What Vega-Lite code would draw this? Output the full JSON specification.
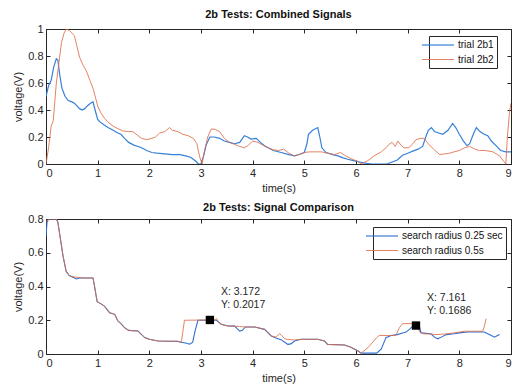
{
  "$schema": "https://vega.github.io/schema/vega-lite/v6.json",
  "padding": {"left": 12, "top": 8, "right": -2, "bottom": 2},
  "config": {
    "font": "Liberation Sans",
    "background": "white",
    "view": {"stroke": "#262626", "strokeWidth": 1},
    "axis": {
      "domainColor": "#262626", "tickColor": "#262626", "labelColor": "#262626", "titleColor": "#262626",
      "labelFontSize": 11, "titleFontSize": 11, "titleFontWeight": "normal",
      "grid": false, "tickSize": -4, "labelPadding": 7, "titlePadding": 4
    },
    "title": {"fontSize": 11, "fontWeight": "bold", "color": "#111111", "offset": 3},
    "legend": {
      "orient": "none", "title": null, "symbolType": "M-3.2,0H3.2", "symbolSize": 100,
      "symbolStrokeWidth": 1.2, "labelFontSize": 10, "labelColor": "#111111", "labelOffset": 14,
      "strokeColor": "#262626", "fillColor": "white", "padding": 3, "rowPadding": 4
    },
    "concat": {"spacing": 7}
  },
  "datasets": {
    "combined": [
      {"t": 0, "v": 0.50, "series": "trial 2b1"}, {"t": 0.05, "v": 0.58, "series": "trial 2b1"}, {"t": 0.1, "v": 0.62, "series": "trial 2b1"},
      {"t": 0.15, "v": 0.72, "series": "trial 2b1"}, {"t": 0.2, "v": 0.78, "series": "trial 2b1"}, {"t": 0.23, "v": 0.77, "series": "trial 2b1"},
      {"t": 0.27, "v": 0.65, "series": "trial 2b1"}, {"t": 0.31, "v": 0.56, "series": "trial 2b1"}, {"t": 0.37, "v": 0.50, "series": "trial 2b1"},
      {"t": 0.43, "v": 0.47, "series": "trial 2b1"}, {"t": 0.5, "v": 0.46, "series": "trial 2b1"}, {"t": 0.55, "v": 0.45, "series": "trial 2b1"},
      {"t": 0.6, "v": 0.43, "series": "trial 2b1"}, {"t": 0.65, "v": 0.41, "series": "trial 2b1"}, {"t": 0.7, "v": 0.40, "series": "trial 2b1"},
      {"t": 0.75, "v": 0.41, "series": "trial 2b1"}, {"t": 0.8, "v": 0.43, "series": "trial 2b1"}, {"t": 0.86, "v": 0.45, "series": "trial 2b1"},
      {"t": 0.91, "v": 0.46, "series": "trial 2b1"}, {"t": 0.95, "v": 0.40, "series": "trial 2b1"}, {"t": 1.0, "v": 0.33, "series": "trial 2b1"},
      {"t": 1.05, "v": 0.31, "series": "trial 2b1"}, {"t": 1.12, "v": 0.29, "series": "trial 2b1"}, {"t": 1.2, "v": 0.27, "series": "trial 2b1"},
      {"t": 1.3, "v": 0.25, "series": "trial 2b1"}, {"t": 1.39, "v": 0.23, "series": "trial 2b1"}, {"t": 1.45, "v": 0.22, "series": "trial 2b1"},
      {"t": 1.52, "v": 0.19, "series": "trial 2b1"}, {"t": 1.6, "v": 0.16, "series": "trial 2b1"}, {"t": 1.7, "v": 0.14, "series": "trial 2b1"},
      {"t": 1.78, "v": 0.13, "series": "trial 2b1"}, {"t": 1.85, "v": 0.12, "series": "trial 2b1"}, {"t": 1.95, "v": 0.10, "series": "trial 2b1"},
      {"t": 2.05, "v": 0.085, "series": "trial 2b1"}, {"t": 2.15, "v": 0.08, "series": "trial 2b1"}, {"t": 2.3, "v": 0.075, "series": "trial 2b1"},
      {"t": 2.45, "v": 0.07, "series": "trial 2b1"}, {"t": 2.6, "v": 0.07, "series": "trial 2b1"}, {"t": 2.7, "v": 0.06, "series": "trial 2b1"},
      {"t": 2.8, "v": 0.05, "series": "trial 2b1"}, {"t": 2.9, "v": 0.02, "series": "trial 2b1"}, {"t": 2.95, "v": 0.0, "series": "trial 2b1"},
      {"t": 3.0, "v": 0.0, "series": "trial 2b1"}, {"t": 3.05, "v": 0.06, "series": "trial 2b1"}, {"t": 3.1, "v": 0.14, "series": "trial 2b1"},
      {"t": 3.17, "v": 0.2, "series": "trial 2b1"}, {"t": 3.25, "v": 0.2, "series": "trial 2b1"}, {"t": 3.36, "v": 0.19, "series": "trial 2b1"},
      {"t": 3.45, "v": 0.17, "series": "trial 2b1"}, {"t": 3.55, "v": 0.16, "series": "trial 2b1"}, {"t": 3.65, "v": 0.15, "series": "trial 2b1"},
      {"t": 3.75, "v": 0.16, "series": "trial 2b1"}, {"t": 3.84, "v": 0.21, "series": "trial 2b1"}, {"t": 3.9, "v": 0.2, "series": "trial 2b1"},
      {"t": 3.97, "v": 0.185, "series": "trial 2b1"}, {"t": 4.07, "v": 0.19, "series": "trial 2b1"}, {"t": 4.15, "v": 0.16, "series": "trial 2b1"},
      {"t": 4.23, "v": 0.135, "series": "trial 2b1"}, {"t": 4.3, "v": 0.12, "series": "trial 2b1"}, {"t": 4.4, "v": 0.1, "series": "trial 2b1"},
      {"t": 4.55, "v": 0.085, "series": "trial 2b1"}, {"t": 4.7, "v": 0.07, "series": "trial 2b1"}, {"t": 4.81, "v": 0.06, "series": "trial 2b1"},
      {"t": 4.9, "v": 0.07, "series": "trial 2b1"}, {"t": 5.0, "v": 0.085, "series": "trial 2b1"}, {"t": 5.05, "v": 0.15, "series": "trial 2b1"},
      {"t": 5.08, "v": 0.22, "series": "trial 2b1"}, {"t": 5.16, "v": 0.25, "series": "trial 2b1"}, {"t": 5.26, "v": 0.27, "series": "trial 2b1"},
      {"t": 5.3, "v": 0.2, "series": "trial 2b1"}, {"t": 5.34, "v": 0.12, "series": "trial 2b1"}, {"t": 5.42, "v": 0.085, "series": "trial 2b1"},
      {"t": 5.55, "v": 0.07, "series": "trial 2b1"}, {"t": 5.65, "v": 0.06, "series": "trial 2b1"}, {"t": 5.75, "v": 0.045, "series": "trial 2b1"},
      {"t": 5.84, "v": 0.035, "series": "trial 2b1"}, {"t": 5.95, "v": 0.025, "series": "trial 2b1"}, {"t": 6.07, "v": 0.015, "series": "trial 2b1"},
      {"t": 6.2, "v": 0.005, "series": "trial 2b1"}, {"t": 6.3, "v": 0.0, "series": "trial 2b1"}, {"t": 6.6, "v": 0.0, "series": "trial 2b1"},
      {"t": 6.7, "v": 0.015, "series": "trial 2b1"}, {"t": 6.8, "v": 0.03, "series": "trial 2b1"}, {"t": 6.9, "v": 0.065, "series": "trial 2b1"},
      {"t": 7.0, "v": 0.08, "series": "trial 2b1"}, {"t": 7.1, "v": 0.095, "series": "trial 2b1"}, {"t": 7.2, "v": 0.11, "series": "trial 2b1"},
      {"t": 7.29, "v": 0.13, "series": "trial 2b1"}, {"t": 7.35, "v": 0.2, "series": "trial 2b1"}, {"t": 7.4, "v": 0.25, "series": "trial 2b1"},
      {"t": 7.46, "v": 0.27, "series": "trial 2b1"}, {"t": 7.52, "v": 0.24, "series": "trial 2b1"}, {"t": 7.6, "v": 0.23, "series": "trial 2b1"},
      {"t": 7.68, "v": 0.22, "series": "trial 2b1"}, {"t": 7.78, "v": 0.25, "series": "trial 2b1"}, {"t": 7.87, "v": 0.3, "series": "trial 2b1"},
      {"t": 7.93, "v": 0.27, "series": "trial 2b1"}, {"t": 8.0, "v": 0.22, "series": "trial 2b1"}, {"t": 8.08, "v": 0.17, "series": "trial 2b1"},
      {"t": 8.15, "v": 0.135, "series": "trial 2b1"}, {"t": 8.2, "v": 0.15, "series": "trial 2b1"}, {"t": 8.27, "v": 0.22, "series": "trial 2b1"},
      {"t": 8.33, "v": 0.27, "series": "trial 2b1"}, {"t": 8.4, "v": 0.24, "series": "trial 2b1"}, {"t": 8.48, "v": 0.22, "series": "trial 2b1"},
      {"t": 8.55, "v": 0.21, "series": "trial 2b1"}, {"t": 8.62, "v": 0.17, "series": "trial 2b1"}, {"t": 8.7, "v": 0.14, "series": "trial 2b1"},
      {"t": 8.8, "v": 0.1, "series": "trial 2b1"}, {"t": 8.9, "v": 0.09, "series": "trial 2b1"}, {"t": 9.0, "v": 0.09, "series": "trial 2b1"},

      {"t": 0, "v": 0.0, "series": "trial 2b2"}, {"t": 0.05, "v": 0.12, "series": "trial 2b2"}, {"t": 0.1, "v": 0.28, "series": "trial 2b2"},
      {"t": 0.14, "v": 0.32, "series": "trial 2b2"}, {"t": 0.2, "v": 0.6, "series": "trial 2b2"}, {"t": 0.25, "v": 0.75, "series": "trial 2b2"},
      {"t": 0.3, "v": 0.9, "series": "trial 2b2"}, {"t": 0.35, "v": 0.97, "series": "trial 2b2"}, {"t": 0.39, "v": 1.0, "series": "trial 2b2"},
      {"t": 0.45, "v": 0.99, "series": "trial 2b2"}, {"t": 0.5, "v": 0.97, "series": "trial 2b2"}, {"t": 0.55, "v": 0.95, "series": "trial 2b2"},
      {"t": 0.6, "v": 0.87, "series": "trial 2b2"}, {"t": 0.65, "v": 0.79, "series": "trial 2b2"}, {"t": 0.72, "v": 0.73, "series": "trial 2b2"},
      {"t": 0.78, "v": 0.69, "series": "trial 2b2"}, {"t": 0.85, "v": 0.62, "series": "trial 2b2"}, {"t": 0.91, "v": 0.56, "series": "trial 2b2"},
      {"t": 0.96, "v": 0.49, "series": "trial 2b2"}, {"t": 1.0, "v": 0.43, "series": "trial 2b2"}, {"t": 1.06, "v": 0.38, "series": "trial 2b2"},
      {"t": 1.13, "v": 0.34, "series": "trial 2b2"}, {"t": 1.2, "v": 0.31, "series": "trial 2b2"}, {"t": 1.3, "v": 0.28, "series": "trial 2b2"},
      {"t": 1.4, "v": 0.26, "series": "trial 2b2"}, {"t": 1.49, "v": 0.245, "series": "trial 2b2"}, {"t": 1.6, "v": 0.24, "series": "trial 2b2"},
      {"t": 1.68, "v": 0.24, "series": "trial 2b2"}, {"t": 1.78, "v": 0.21, "series": "trial 2b2"}, {"t": 1.85, "v": 0.19, "series": "trial 2b2"},
      {"t": 1.95, "v": 0.18, "series": "trial 2b2"}, {"t": 2.05, "v": 0.19, "series": "trial 2b2"}, {"t": 2.12, "v": 0.2, "series": "trial 2b2"},
      {"t": 2.2, "v": 0.23, "series": "trial 2b2"}, {"t": 2.3, "v": 0.24, "series": "trial 2b2"}, {"t": 2.39, "v": 0.27, "series": "trial 2b2"},
      {"t": 2.45, "v": 0.25, "series": "trial 2b2"}, {"t": 2.55, "v": 0.24, "series": "trial 2b2"}, {"t": 2.65, "v": 0.22, "series": "trial 2b2"},
      {"t": 2.75, "v": 0.21, "series": "trial 2b2"}, {"t": 2.85, "v": 0.19, "series": "trial 2b2"}, {"t": 2.92, "v": 0.15, "series": "trial 2b2"},
      {"t": 2.97, "v": 0.06, "series": "trial 2b2"}, {"t": 3.02, "v": 0.0, "series": "trial 2b2"}, {"t": 3.07, "v": 0.1, "series": "trial 2b2"},
      {"t": 3.13, "v": 0.2, "series": "trial 2b2"}, {"t": 3.2, "v": 0.26, "series": "trial 2b2"}, {"t": 3.28, "v": 0.255, "series": "trial 2b2"},
      {"t": 3.36, "v": 0.24, "series": "trial 2b2"}, {"t": 3.45, "v": 0.19, "series": "trial 2b2"}, {"t": 3.55, "v": 0.16, "series": "trial 2b2"},
      {"t": 3.65, "v": 0.145, "series": "trial 2b2"}, {"t": 3.75, "v": 0.13, "series": "trial 2b2"}, {"t": 3.84, "v": 0.12, "series": "trial 2b2"},
      {"t": 3.92, "v": 0.14, "series": "trial 2b2"}, {"t": 4.0, "v": 0.17, "series": "trial 2b2"}, {"t": 4.1, "v": 0.16, "series": "trial 2b2"},
      {"t": 4.2, "v": 0.14, "series": "trial 2b2"}, {"t": 4.3, "v": 0.12, "series": "trial 2b2"}, {"t": 4.4, "v": 0.105, "series": "trial 2b2"},
      {"t": 4.5, "v": 0.1, "series": "trial 2b2"}, {"t": 4.6, "v": 0.11, "series": "trial 2b2"}, {"t": 4.7, "v": 0.08, "series": "trial 2b2"},
      {"t": 4.81, "v": 0.06, "series": "trial 2b2"}, {"t": 4.9, "v": 0.07, "series": "trial 2b2"}, {"t": 5.0, "v": 0.085, "series": "trial 2b2"},
      {"t": 5.1, "v": 0.09, "series": "trial 2b2"}, {"t": 5.2, "v": 0.09, "series": "trial 2b2"}, {"t": 5.33, "v": 0.09, "series": "trial 2b2"},
      {"t": 5.45, "v": 0.08, "series": "trial 2b2"}, {"t": 5.58, "v": 0.07, "series": "trial 2b2"}, {"t": 5.7, "v": 0.085, "series": "trial 2b2"},
      {"t": 5.8, "v": 0.06, "series": "trial 2b2"}, {"t": 5.9, "v": 0.04, "series": "trial 2b2"}, {"t": 6.03, "v": 0.02, "series": "trial 2b2"},
      {"t": 6.1, "v": 0.0, "series": "trial 2b2"}, {"t": 6.23, "v": 0.025, "series": "trial 2b2"}, {"t": 6.35, "v": 0.06, "series": "trial 2b2"},
      {"t": 6.49, "v": 0.09, "series": "trial 2b2"}, {"t": 6.58, "v": 0.12, "series": "trial 2b2"}, {"t": 6.65, "v": 0.15, "series": "trial 2b2"},
      {"t": 6.7, "v": 0.16, "series": "trial 2b2"}, {"t": 6.76, "v": 0.13, "series": "trial 2b2"}, {"t": 6.81, "v": 0.17, "series": "trial 2b2"},
      {"t": 6.87, "v": 0.14, "series": "trial 2b2"}, {"t": 6.93, "v": 0.12, "series": "trial 2b2"}, {"t": 7.02, "v": 0.12, "series": "trial 2b2"},
      {"t": 7.1, "v": 0.15, "series": "trial 2b2"}, {"t": 7.16, "v": 0.18, "series": "trial 2b2"}, {"t": 7.25, "v": 0.19, "series": "trial 2b2"},
      {"t": 7.32, "v": 0.19, "series": "trial 2b2"}, {"t": 7.4, "v": 0.15, "series": "trial 2b2"}, {"t": 7.5, "v": 0.11, "series": "trial 2b2"},
      {"t": 7.62, "v": 0.07, "series": "trial 2b2"}, {"t": 7.72, "v": 0.075, "series": "trial 2b2"}, {"t": 7.81, "v": 0.08, "series": "trial 2b2"},
      {"t": 7.9, "v": 0.09, "series": "trial 2b2"}, {"t": 8.0, "v": 0.1, "series": "trial 2b2"}, {"t": 8.1, "v": 0.12, "series": "trial 2b2"},
      {"t": 8.2, "v": 0.13, "series": "trial 2b2"}, {"t": 8.3, "v": 0.11, "series": "trial 2b2"}, {"t": 8.39, "v": 0.1, "series": "trial 2b2"},
      {"t": 8.5, "v": 0.1, "series": "trial 2b2"}, {"t": 8.65, "v": 0.09, "series": "trial 2b2"}, {"t": 8.78, "v": 0.06, "series": "trial 2b2"},
      {"t": 8.86, "v": 0.02, "series": "trial 2b2"}, {"t": 8.9, "v": 0.0, "series": "trial 2b2"}, {"t": 8.93, "v": 0.2, "series": "trial 2b2"},
      {"t": 8.97, "v": 0.38, "series": "trial 2b2"}, {"t": 9.0, "v": 0.45, "series": "trial 2b2"}
    ],
    "comparison": [
      {"t": 0, "v": 0.70, "series": "search radius 0.25 sec"}, {"t": 0.02, "v": 0.78, "series": "search radius 0.25 sec"}, {"t": 0.05, "v": 0.80, "series": "search radius 0.25 sec"},
      {"t": 0.2, "v": 0.80, "series": "search radius 0.25 sec"}, {"t": 0.23, "v": 0.78, "series": "search radius 0.25 sec"}, {"t": 0.28, "v": 0.68, "series": "search radius 0.25 sec"},
      {"t": 0.33, "v": 0.58, "series": "search radius 0.25 sec"}, {"t": 0.39, "v": 0.49, "series": "search radius 0.25 sec"}, {"t": 0.45, "v": 0.465, "series": "search radius 0.25 sec"},
      {"t": 0.52, "v": 0.455, "series": "search radius 0.25 sec"}, {"t": 0.59, "v": 0.445, "series": "search radius 0.25 sec"}, {"t": 0.65, "v": 0.45, "series": "search radius 0.25 sec"},
      {"t": 0.91, "v": 0.45, "series": "search radius 0.25 sec"}, {"t": 0.94, "v": 0.40, "series": "search radius 0.25 sec"}, {"t": 0.99, "v": 0.31, "series": "search radius 0.25 sec"},
      {"t": 1.05, "v": 0.30, "series": "search radius 0.25 sec"}, {"t": 1.13, "v": 0.284, "series": "search radius 0.25 sec"}, {"t": 1.23, "v": 0.245, "series": "search radius 0.25 sec"},
      {"t": 1.33, "v": 0.235, "series": "search radius 0.25 sec"}, {"t": 1.39, "v": 0.196, "series": "search radius 0.25 sec"}, {"t": 1.45, "v": 0.18, "series": "search radius 0.25 sec"},
      {"t": 1.52, "v": 0.156, "series": "search radius 0.25 sec"}, {"t": 1.6, "v": 0.14, "series": "search radius 0.25 sec"}, {"t": 1.78, "v": 0.136, "series": "search radius 0.25 sec"},
      {"t": 1.85, "v": 0.115, "series": "search radius 0.25 sec"}, {"t": 1.91, "v": 0.097, "series": "search radius 0.25 sec"}, {"t": 2.0, "v": 0.087, "series": "search radius 0.25 sec"},
      {"t": 2.17, "v": 0.077, "series": "search radius 0.25 sec"}, {"t": 2.35, "v": 0.076, "series": "search radius 0.25 sec"}, {"t": 2.55, "v": 0.075, "series": "search radius 0.25 sec"},
      {"t": 2.62, "v": 0.07, "series": "search radius 0.25 sec"}, {"t": 2.7, "v": 0.065, "series": "search radius 0.25 sec"}, {"t": 2.78, "v": 0.058, "series": "search radius 0.25 sec"},
      {"t": 2.84, "v": 0.07, "series": "search radius 0.25 sec"}, {"t": 2.88, "v": 0.13, "series": "search radius 0.25 sec"}, {"t": 2.94, "v": 0.2, "series": "search radius 0.25 sec"},
      {"t": 3.172, "v": 0.2017, "series": "search radius 0.25 sec"}, {"t": 3.3, "v": 0.2, "series": "search radius 0.25 sec"}, {"t": 3.39, "v": 0.176, "series": "search radius 0.25 sec"},
      {"t": 3.52, "v": 0.166, "series": "search radius 0.25 sec"}, {"t": 3.65, "v": 0.165, "series": "search radius 0.25 sec"}, {"t": 3.7, "v": 0.15, "series": "search radius 0.25 sec"},
      {"t": 3.75, "v": 0.136, "series": "search radius 0.25 sec"}, {"t": 3.8, "v": 0.14, "series": "search radius 0.25 sec"}, {"t": 3.86, "v": 0.16, "series": "search radius 0.25 sec"},
      {"t": 4.04, "v": 0.16, "series": "search radius 0.25 sec"}, {"t": 4.23, "v": 0.146, "series": "search radius 0.25 sec"}, {"t": 4.36, "v": 0.107, "series": "search radius 0.25 sec"},
      {"t": 4.45, "v": 0.095, "series": "search radius 0.25 sec"}, {"t": 4.55, "v": 0.085, "series": "search radius 0.25 sec"}, {"t": 4.62, "v": 0.07, "series": "search radius 0.25 sec"},
      {"t": 4.68, "v": 0.057, "series": "search radius 0.25 sec"}, {"t": 4.74, "v": 0.06, "series": "search radius 0.25 sec"}, {"t": 4.81, "v": 0.077, "series": "search radius 0.25 sec"},
      {"t": 4.94, "v": 0.087, "series": "search radius 0.25 sec"}, {"t": 5.26, "v": 0.087, "series": "search radius 0.25 sec"}, {"t": 5.39, "v": 0.077, "series": "search radius 0.25 sec"},
      {"t": 5.45, "v": 0.057, "series": "search radius 0.25 sec"}, {"t": 5.78, "v": 0.053, "series": "search radius 0.25 sec"}, {"t": 5.9, "v": 0.04, "series": "search radius 0.25 sec"},
      {"t": 6.04, "v": 0.018, "series": "search radius 0.25 sec"}, {"t": 6.1, "v": 0.005, "series": "search radius 0.25 sec"}, {"t": 6.4, "v": 0.005, "series": "search radius 0.25 sec"},
      {"t": 6.49, "v": 0.03, "series": "search radius 0.25 sec"}, {"t": 6.58, "v": 0.097, "series": "search radius 0.25 sec"}, {"t": 6.68, "v": 0.11, "series": "search radius 0.25 sec"},
      {"t": 6.8, "v": 0.115, "series": "search radius 0.25 sec"}, {"t": 6.9, "v": 0.125, "series": "search radius 0.25 sec"}, {"t": 6.97, "v": 0.13, "series": "search radius 0.25 sec"},
      {"t": 7.05, "v": 0.15, "series": "search radius 0.25 sec"}, {"t": 7.1, "v": 0.166, "series": "search radius 0.25 sec"}, {"t": 7.161, "v": 0.1686, "series": "search radius 0.25 sec"},
      {"t": 7.22, "v": 0.17, "series": "search radius 0.25 sec"}, {"t": 7.26, "v": 0.125, "series": "search radius 0.25 sec"}, {"t": 7.45, "v": 0.12, "series": "search radius 0.25 sec"},
      {"t": 7.52, "v": 0.1, "series": "search radius 0.25 sec"}, {"t": 7.58, "v": 0.09, "series": "search radius 0.25 sec"}, {"t": 7.65, "v": 0.1, "series": "search radius 0.25 sec"},
      {"t": 7.75, "v": 0.115, "series": "search radius 0.25 sec"}, {"t": 7.9, "v": 0.12, "series": "search radius 0.25 sec"}, {"t": 8.0, "v": 0.125, "series": "search radius 0.25 sec"},
      {"t": 8.16, "v": 0.13, "series": "search radius 0.25 sec"}, {"t": 8.3, "v": 0.13, "series": "search radius 0.25 sec"}, {"t": 8.48, "v": 0.13, "series": "search radius 0.25 sec"},
      {"t": 8.55, "v": 0.12, "series": "search radius 0.25 sec"}, {"t": 8.62, "v": 0.11, "series": "search radius 0.25 sec"}, {"t": 8.68, "v": 0.1, "series": "search radius 0.25 sec"},
      {"t": 8.74, "v": 0.11, "series": "search radius 0.25 sec"}, {"t": 8.78, "v": 0.115, "series": "search radius 0.25 sec"},

      {"t": 0, "v": 0.78, "series": "search radius 0.5s"}, {"t": 0.05, "v": 0.80, "series": "search radius 0.5s"}, {"t": 0.2, "v": 0.80, "series": "search radius 0.5s"},
      {"t": 0.23, "v": 0.78, "series": "search radius 0.5s"}, {"t": 0.28, "v": 0.68, "series": "search radius 0.5s"}, {"t": 0.33, "v": 0.58, "series": "search radius 0.5s"},
      {"t": 0.39, "v": 0.49, "series": "search radius 0.5s"}, {"t": 0.45, "v": 0.465, "series": "search radius 0.5s"}, {"t": 0.52, "v": 0.458, "series": "search radius 0.5s"},
      {"t": 0.59, "v": 0.455, "series": "search radius 0.5s"}, {"t": 0.75, "v": 0.45, "series": "search radius 0.5s"}, {"t": 0.91, "v": 0.45, "series": "search radius 0.5s"},
      {"t": 0.94, "v": 0.40, "series": "search radius 0.5s"}, {"t": 0.99, "v": 0.31, "series": "search radius 0.5s"}, {"t": 1.05, "v": 0.30, "series": "search radius 0.5s"},
      {"t": 1.13, "v": 0.284, "series": "search radius 0.5s"}, {"t": 1.23, "v": 0.245, "series": "search radius 0.5s"}, {"t": 1.33, "v": 0.235, "series": "search radius 0.5s"},
      {"t": 1.39, "v": 0.196, "series": "search radius 0.5s"}, {"t": 1.45, "v": 0.18, "series": "search radius 0.5s"}, {"t": 1.52, "v": 0.156, "series": "search radius 0.5s"},
      {"t": 1.6, "v": 0.14, "series": "search radius 0.5s"}, {"t": 1.78, "v": 0.136, "series": "search radius 0.5s"}, {"t": 1.85, "v": 0.115, "series": "search radius 0.5s"},
      {"t": 1.91, "v": 0.097, "series": "search radius 0.5s"}, {"t": 2.0, "v": 0.087, "series": "search radius 0.5s"}, {"t": 2.17, "v": 0.077, "series": "search radius 0.5s"},
      {"t": 2.35, "v": 0.076, "series": "search radius 0.5s"}, {"t": 2.55, "v": 0.075, "series": "search radius 0.5s"}, {"t": 2.62, "v": 0.07, "series": "search radius 0.5s"},
      {"t": 2.68, "v": 0.2, "series": "search radius 0.5s"}, {"t": 3.172, "v": 0.2017, "series": "search radius 0.5s"}, {"t": 3.25, "v": 0.2, "series": "search radius 0.5s"},
      {"t": 3.3, "v": 0.21, "series": "search radius 0.5s"}, {"t": 3.34, "v": 0.19, "series": "search radius 0.5s"}, {"t": 3.39, "v": 0.176, "series": "search radius 0.5s"},
      {"t": 3.52, "v": 0.166, "series": "search radius 0.5s"}, {"t": 3.65, "v": 0.165, "series": "search radius 0.5s"}, {"t": 3.75, "v": 0.163, "series": "search radius 0.5s"},
      {"t": 3.86, "v": 0.16, "series": "search radius 0.5s"}, {"t": 4.04, "v": 0.16, "series": "search radius 0.5s"}, {"t": 4.23, "v": 0.146, "series": "search radius 0.5s"},
      {"t": 4.36, "v": 0.107, "series": "search radius 0.5s"}, {"t": 4.45, "v": 0.1, "series": "search radius 0.5s"}, {"t": 4.52, "v": 0.12, "series": "search radius 0.5s"},
      {"t": 4.56, "v": 0.11, "series": "search radius 0.5s"}, {"t": 4.62, "v": 0.09, "series": "search radius 0.5s"}, {"t": 4.68, "v": 0.086, "series": "search radius 0.5s"},
      {"t": 4.81, "v": 0.083, "series": "search radius 0.5s"}, {"t": 4.94, "v": 0.087, "series": "search radius 0.5s"}, {"t": 5.26, "v": 0.087, "series": "search radius 0.5s"},
      {"t": 5.39, "v": 0.077, "series": "search radius 0.5s"}, {"t": 5.45, "v": 0.057, "series": "search radius 0.5s"}, {"t": 5.78, "v": 0.053, "series": "search radius 0.5s"},
      {"t": 5.9, "v": 0.04, "series": "search radius 0.5s"}, {"t": 6.04, "v": 0.018, "series": "search radius 0.5s"}, {"t": 6.1, "v": 0.005, "series": "search radius 0.5s"},
      {"t": 6.23, "v": 0.037, "series": "search radius 0.5s"}, {"t": 6.4, "v": 0.097, "series": "search radius 0.5s"}, {"t": 6.45, "v": 0.11, "series": "search radius 0.5s"},
      {"t": 6.77, "v": 0.11, "series": "search radius 0.5s"}, {"t": 6.84, "v": 0.156, "series": "search radius 0.5s"}, {"t": 6.9, "v": 0.18, "series": "search radius 0.5s"},
      {"t": 7.19, "v": 0.18, "series": "search radius 0.5s"}, {"t": 7.23, "v": 0.13, "series": "search radius 0.5s"}, {"t": 7.3, "v": 0.12, "series": "search radius 0.5s"},
      {"t": 7.45, "v": 0.118, "series": "search radius 0.5s"}, {"t": 7.55, "v": 0.115, "series": "search radius 0.5s"}, {"t": 7.7, "v": 0.118, "series": "search radius 0.5s"},
      {"t": 7.9, "v": 0.125, "series": "search radius 0.5s"}, {"t": 8.1, "v": 0.135, "series": "search radius 0.5s"}, {"t": 8.3, "v": 0.135, "series": "search radius 0.5s"},
      {"t": 8.45, "v": 0.135, "series": "search radius 0.5s"}, {"t": 8.48, "v": 0.16, "series": "search radius 0.5s"}, {"t": 8.52, "v": 0.21, "series": "search radius 0.5s"}
    ],
    "datatips": [
      {"t": 3.172, "v": 0.2017, "label": "X: 3.172\nY: 0.2017"},
      {"t": 7.161, "v": 0.1686, "label": "X: 7.161\nY: 0.1686"}
    ]
  },
  "vconcat": [
    {
      "width": 465,
      "height": 135,
      "title": {"text": "2b Tests: Combined Signals"},
      "layer": [
        {
          "data": {"name": "combined"},
          "mark": {"type": "line", "clip": true},
          "encoding": {
            "x": {"field": "t", "type": "quantitative", "scale": {"domain": [0, 9], "nice": false},
                  "axis": {"title": "time(s)", "values": [0, 1, 2, 3, 4, 5, 6, 7, 8, 9], "format": "~g"}},
            "y": {"field": "v", "type": "quantitative", "scale": {"domain": [0, 1], "nice": false},
                  "axis": {"title": "voltage(V)", "values": [0, 0.2, 0.4, 0.6, 0.8, 1], "format": "~g"}},
            "color": {"field": "series", "type": "nominal",
                      "scale": {"domain": ["trial 2b1", "trial 2b2"], "range": ["#3580d8", "#dd6d48"]},
                      "legend": {"legendX": 383, "legendY": 7}},
            "strokeWidth": {"field": "series", "type": "nominal",
                            "scale": {"domain": ["trial 2b1", "trial 2b2"], "range": [1.2, 0.85]}, "legend": null}
          }
        },
        {
          "data": {"name": "combined"},
          "mark": {"type": "point", "opacity": 0},
          "encoding": {
            "x": {"field": "t", "type": "quantitative",
                  "axis": {"orient": "top", "labels": false, "title": null, "domain": false, "values": [0, 1, 2, 3, 4, 5, 6, 7, 8, 9]}},
            "y": {"field": "v", "type": "quantitative",
                  "axis": {"orient": "right", "labels": false, "title": null, "domain": false, "values": [0, 0.2, 0.4, 0.6, 0.8, 1]}}
          }
        }
      ],
      "resolve": {"axis": {"x": "independent", "y": "independent"}}
    },
    {
      "width": 465,
      "height": 135,
      "title": {"text": "2b Tests: Signal Comparison", "offset": 0},
      "layer": [
        {
          "data": {"name": "comparison"},
          "mark": {"type": "line", "clip": true},
          "encoding": {
            "x": {"field": "t", "type": "quantitative", "scale": {"domain": [0, 9], "nice": false},
                  "axis": {"title": "time(s)", "values": [0, 1, 2, 3, 4, 5, 6, 7, 8, 9], "format": "~g"}},
            "y": {"field": "v", "type": "quantitative", "scale": {"domain": [0, 0.8], "nice": false},
                  "axis": {"title": "voltage(V)", "values": [0, 0.2, 0.4, 0.6, 0.8], "format": "~g"}},
            "color": {"field": "series", "type": "nominal",
                      "scale": {"domain": ["search radius 0.25 sec", "search radius 0.5s"], "range": ["#2f6fd0", "#dd6d48"]},
                      "legend": {"legendX": 327, "legendY": 8}},
            "strokeWidth": {"field": "series", "type": "nominal",
                            "scale": {"domain": ["search radius 0.25 sec", "search radius 0.5s"], "range": [1.1, 0.85]}, "legend": null}
          }
        },
        {
          "data": {"name": "comparison"},
          "mark": {"type": "point", "opacity": 0},
          "encoding": {
            "x": {"field": "t", "type": "quantitative",
                  "axis": {"orient": "top", "labels": false, "title": null, "domain": false, "values": [0, 1, 2, 3, 4, 5, 6, 7, 8, 9]}},
            "y": {"field": "v", "type": "quantitative",
                  "axis": {"orient": "right", "labels": false, "title": null, "domain": false, "values": [0, 0.2, 0.4, 0.6, 0.8]}}
          }
        },
        {
          "data": {"name": "datatips"},
          "mark": {"type": "square", "size": 70, "filled": true, "color": "#000000", "opacity": 1},
          "encoding": {
            "x": {"field": "t", "type": "quantitative", "axis": null},
            "y": {"field": "v", "type": "quantitative", "axis": null}
          }
        },
        {
          "data": {"name": "datatips"},
          "mark": {"type": "text", "align": "left", "baseline": "bottom", "dx": 11, "dy": -23,
                   "lineBreak": "\n", "lineHeight": 13, "fontSize": 10.5, "color": "#262626"},
          "encoding": {
            "x": {"field": "t", "type": "quantitative", "axis": null},
            "y": {"field": "v", "type": "quantitative", "axis": null},
            "text": {"field": "label"}
          }
        }
      ],
      "resolve": {"axis": {"x": "independent", "y": "independent"}}
    }
  ],
  "resolve": {"scale": {"color": "independent", "strokeWidth": "independent"}, "legend": {"color": "independent"}}
}
